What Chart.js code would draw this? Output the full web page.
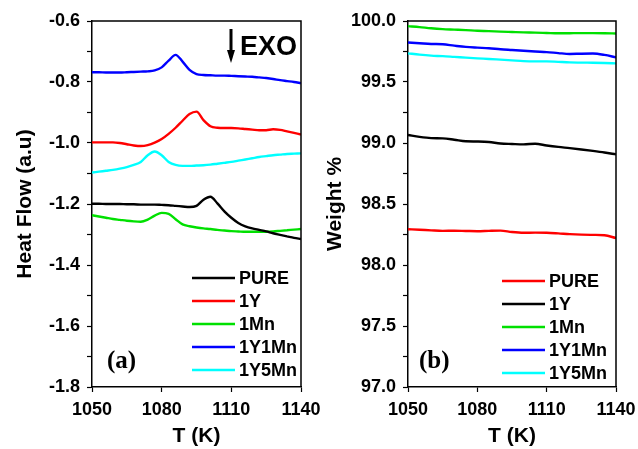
<!DOCTYPE html>
<html>
<head>
<meta charset="utf-8">
<script src="https://cdn.jsdelivr.net/npm/chart.js@4.4.1/dist/chart.umd.min.js"></script>
<style>
  body { margin: 0; background: #fff; }
  #wrap { position: relative; width: 638px; height: 449px; }
  #dscChart { position: absolute; left: 0; top: 0; }
  #tgaChart { position: absolute; left: 318px; top: 0; }
</style>
</head>
<body>
<div id="wrap">
  <canvas id="dscChart" width="330" height="449"></canvas>
  <canvas id="tgaChart" width="320" height="449"></canvas>
</div>
<script>
// panel (a): heat flow, sampled every 3 K
const dscTemps = [1050, 1053, 1056, 1059, 1062, 1065, 1068, 1071, 1074, 1077, 1080, 1083, 1086, 1089, 1092, 1095,
  1098, 1101, 1104, 1107, 1110, 1113, 1116, 1119, 1122, 1125, 1128, 1131, 1134, 1137, 1140];
const dscPure = [-1.199, -1.199, -1.200, -1.200, -1.200, -1.201, -1.201, -1.202, -1.202, -1.202, -1.203, -1.204, -1.206, -1.208, -1.210, -1.206,
  -1.186, -1.176, -1.198, -1.224, -1.245, -1.262, -1.273, -1.280, -1.285, -1.290, -1.296, -1.301, -1.306, -1.311, -1.315];
const dsc1Y = [-0.998, -0.998, -0.998, -0.998, -1.000, -1.004, -1.008, -1.010, -1.007, -0.999, -0.987, -0.970, -0.950, -0.927, -0.905, -0.897,
  -0.925, -0.945, -0.950, -0.951, -0.951, -0.952, -0.954, -0.956, -0.958, -0.958, -0.955, -0.957, -0.962, -0.967, -0.972];
const dsc1Mn = [-1.237, -1.241, -1.245, -1.249, -1.252, -1.255, -1.257, -1.258, -1.251, -1.238, -1.229, -1.232, -1.250, -1.267, -1.273, -1.277,
  -1.280, -1.282, -1.285, -1.287, -1.289, -1.290, -1.291, -1.291, -1.291, -1.291, -1.290, -1.288, -1.286, -1.284, -1.282];
const dsc1Y1Mn = [-0.768, -0.768, -0.769, -0.769, -0.769, -0.768, -0.767, -0.766, -0.765, -0.762, -0.752, -0.730, -0.711, -0.733, -0.760, -0.774,
  -0.777, -0.778, -0.779, -0.779, -0.780, -0.781, -0.782, -0.783, -0.785, -0.787, -0.790, -0.794, -0.797, -0.800, -0.804];
const dsc1Y5Mn = [-1.097, -1.094, -1.091, -1.088, -1.084, -1.079, -1.072, -1.062, -1.040, -1.028, -1.040, -1.062, -1.072, -1.075, -1.075, -1.074,
  -1.073, -1.071, -1.068, -1.065, -1.062, -1.058, -1.054, -1.050, -1.046, -1.043, -1.040, -1.038, -1.036, -1.035, -1.034];

// panel (b): weight %, sampled every 5 K
const tgaTemps = [1050, 1055, 1060, 1065, 1070, 1075, 1080, 1085, 1090, 1095, 1100, 1105, 1110, 1115, 1120, 1125, 1130, 1135, 1140];
const tgaPure = [98.293, 98.289, 98.284, 98.280, 98.281, 98.279, 98.277, 98.280, 98.282, 98.270, 98.264, 98.265, 98.264, 98.259, 98.253, 98.249, 98.247, 98.244, 98.221];
const tga1Y = [99.066, 99.050, 99.040, 99.038, 99.027, 99.014, 99.012, 99.008, 98.996, 98.992, 98.989, 98.994, 98.980, 98.968, 98.958, 98.947, 98.935, 98.922, 98.907];
const tga1Mn = [99.958, 99.950, 99.940, 99.933, 99.929, 99.925, 99.920, 99.917, 99.913, 99.910, 99.907, 99.905, 99.902, 99.899, 99.900, 99.901, 99.901, 99.900, 99.898];
const tga1Y1Mn = [99.824, 99.818, 99.812, 99.809, 99.798, 99.788, 99.782, 99.777, 99.768, 99.762, 99.756, 99.750, 99.745, 99.737, 99.730, 99.732, 99.733, 99.722, 99.702];
const tga1Y5Mn = [99.735, 99.724, 99.716, 99.712, 99.706, 99.700, 99.694, 99.689, 99.683, 99.677, 99.671, 99.669, 99.669, 99.665, 99.661, 99.659, 99.658, 99.656, 99.653];

const seriesLabels = ["PURE", "1Y", "1Mn", "1Y1Mn", "1Y5Mn"];
const dscColors = ["#000000", "#ff0000", "#00e000", "#0000ff", "#00ffff"];
const tgaColors = ["#ff0000", "#000000", "#00e000", "#0000ff", "#00ffff"];

const SANS = "'Liberation Sans', Arial, sans-serif";
const SERIF = "'Liberation Serif', 'Times New Roman', serif";

const toPoints = (xs, ys) => xs.map((x, i) => ({ x: x, y: ys[i] }));

// top and right edges of the box, plus legend and notes
const panelDecor = {
    id: "panelDecor",
    afterDraw(chart, args, opts) {
        const { ctx, chartArea: a } = chart;
        ctx.save();
        ctx.strokeStyle = "#000";
        ctx.lineWidth = 1.5;
        ctx.beginPath();
        ctx.moveTo(a.left, a.top);
        ctx.lineTo(a.right, a.top);
        ctx.lineTo(a.right, a.bottom);
        ctx.stroke();

        // legend
        ctx.font = "bold 18px " + SANS;
        ctx.textBaseline = "middle";
        ctx.textAlign = "left";
        chart.data.datasets.forEach((ds, i) => {
            const y = opts.keyY + i * opts.keyGap;
            ctx.strokeStyle = ds.borderColor;
            ctx.lineWidth = 2.5;
            ctx.beginPath();
            ctx.moveTo(opts.keyX, y);
            ctx.lineTo(opts.keyX + 43, y);
            ctx.stroke();
            ctx.fillStyle = "#000";
            ctx.fillText(ds.label, opts.keyX + 47, y + 1);
        });

        // panel letter
        ctx.font = "bold 25px " + SERIF;
        ctx.fillText(opts.letter, opts.letterX, opts.letterY);

        if (opts.exo) {
            const ax = 231;
            ctx.strokeStyle = "#000";
            ctx.lineWidth = 3;
            ctx.beginPath();
            ctx.moveTo(ax, 29);
            ctx.lineTo(ax, 52);
            ctx.stroke();
            ctx.fillStyle = "#000";
            ctx.beginPath();
            ctx.moveTo(ax - 4, 50);
            ctx.lineTo(ax + 4, 50);
            ctx.lineTo(ax, 63);
            ctx.closePath();
            ctx.fill();
            ctx.font = "bold 27px " + SANS;
            ctx.textBaseline = "alphabetic";
            ctx.fillText("EXO", 240, 55);
        }
        ctx.restore();
    },
};

const makeDatasets = (temps, seriesList, colors) => seriesList.map((vals, i) => ({
    label: seriesLabels[i],
    data: toPoints(temps, vals),
    borderColor: colors[i],
    backgroundColor: colors[i],
    borderWidth: 2.4,
    pointRadius: 0,
    cubicInterpolationMode: "monotone",
    fill: false,
}));

const axisBase = (width, height) => ({
    grid: { drawOnChartArea: false, drawTicks: true, tickLength: 5, color: "#000", tickWidth: 1.2 },
    border: { display: true, color: "#000", width: 1.5 },
    afterFit(scale) {
        if (width) scale.width = width;
        if (height) scale.height = height;
        scale.paddingLeft = 0;
        scale.paddingRight = 0;
        scale.paddingTop = 0;
        scale.paddingBottom = 0;
    },
});

const xAxis = () => Object.assign(axisBase(0, 62), {
    type: "linear",
    min: 1050,
    max: 1140,
    ticks: {
        stepSize: 15,
        padding: 7,
        color: "#000",
        maxRotation: 0,
        font: { family: SANS, size: 18, weight: "bold" },
        callback: (v) => ((v - 1050) % 30 === 0 ? String(v) : ""),
    },
    title: {
        display: true,
        text: "T (K)",
        color: "#000",
        font: { family: SANS, size: 21, weight: "bold" },
        padding: { top: 0, bottom: 0 },
    },
});

new Chart(document.getElementById("dscChart").getContext("2d"), {
    type: "line",
    data: { datasets: makeDatasets(dscTemps, [dscPure, dsc1Y, dsc1Mn, dsc1Y1Mn, dsc1Y5Mn], dscColors) },
    options: {
        responsive: false,
        animation: false,
        layout: { padding: { left: 0, right: 29, top: 21, bottom: 0 } },
        plugins: {
            legend: { display: false },
            tooltip: { enabled: false },
            panelDecor: { keyX: 192, keyY: 278, keyGap: 23, letter: "(a)", letterX: 107, letterY: 362, exo: true },
        },
        scales: {
            x: xAxis(),
            y: Object.assign(axisBase(92, 0), {
                type: "linear",
                min: -1.8,
                max: -0.6,
                ticks: {
                    stepSize: 0.1,
                    padding: 7,
                    color: "#000",
                    font: { family: SANS, size: 18, weight: "bold" },
                    callback: (v) => (Math.abs(Math.round(v * 10)) % 2 === 0 ? v.toFixed(1) : ""),
                },
                title: {
                    display: true,
                    text: "Heat Flow (a.u)",
                    color: "#000",
                    font: { family: SANS, size: 21, weight: "bold" },
                    padding: { top: 13, bottom: 0 },
                },
            }),
        },
    },
    plugins: [panelDecor],
});

new Chart(document.getElementById("tgaChart").getContext("2d"), {
    type: "line",
    data: { datasets: makeDatasets(tgaTemps, [tgaPure, tga1Y, tga1Mn, tga1Y1Mn, tga1Y5Mn], tgaColors) },
    options: {
        responsive: false,
        animation: false,
        layout: { padding: { left: 0, right: 22, top: 21, bottom: 0 } },
        plugins: {
            legend: { display: false },
            tooltip: { enabled: false },
            panelDecor: { keyX: 184, keyY: 281, keyGap: 23, letter: "(b)", letterX: 101, letterY: 362, exo: false },
        },
        scales: {
            x: xAxis(),
            y: Object.assign(axisBase(90, 0), {
                type: "linear",
                min: 97,
                max: 100,
                ticks: {
                    stepSize: 0.25,
                    padding: 7,
                    color: "#000",
                    font: { family: SANS, size: 18, weight: "bold" },
                    callback: (v) => (Math.round(v * 4) % 2 === 0 ? v.toFixed(1) : ""),
                },
                title: {
                    display: true,
                    text: "Weight %",
                    color: "#000",
                    font: { family: SANS, size: 21, weight: "bold" },
                    padding: { top: 5, bottom: 0 },
                },
            }),
        },
    },
    plugins: [panelDecor],
});
</script>
</body>
</html>
